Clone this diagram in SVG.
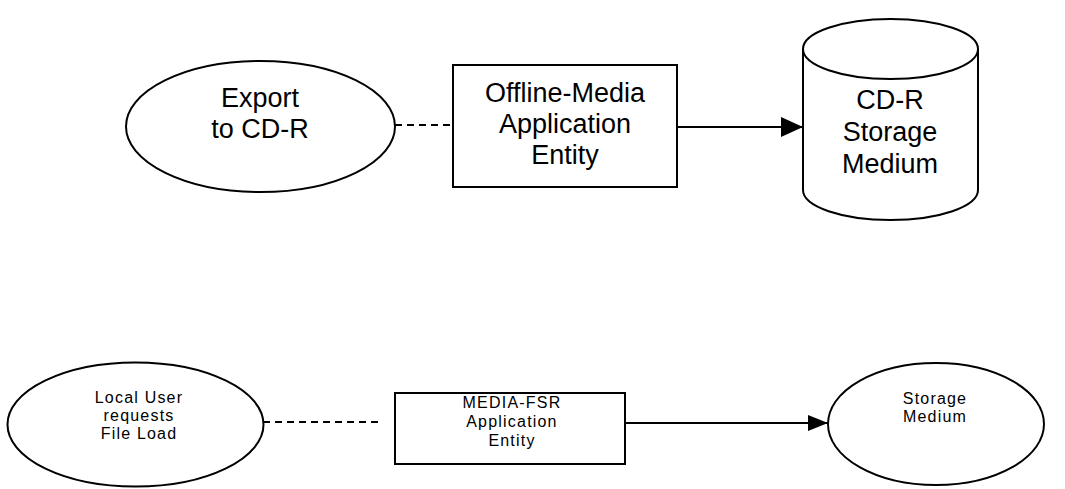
<svg xmlns="http://www.w3.org/2000/svg" width="1065" height="489" viewBox="0 0 1065 489">
  <defs>
    <style>
      .shape { fill: #ffffff; stroke: #000000; stroke-width: 2; }
      .big { font-family: "Liberation Sans", Arial, sans-serif; font-size: 27px; fill: #000; text-anchor: middle; }
      .small { font-family: "Liberation Sans", Arial, sans-serif; font-size: 16px; fill: #000; text-anchor: middle; letter-spacing: 1.2px; }
      .dash { stroke: #000; stroke-width: 2; stroke-dasharray: 7 5; fill: none; }
      .solid { stroke: #000; stroke-width: 2; fill: none; }
    </style>
    <marker id="arrow" markerWidth="22" markerHeight="20" refX="22" refY="10" orient="auto" markerUnits="userSpaceOnUse">
      <path d="M0,0 L22,10 L0,20 Z" fill="#000"/>
    </marker>
    <marker id="arrowSmall" markerWidth="20" markerHeight="16" refX="20" refY="8" orient="auto" markerUnits="userSpaceOnUse">
      <path d="M0,0 L20,8 L0,16 Z" fill="#000"/>
    </marker>
  </defs>

  <g id="connectors">
    <line class="dash" x1="395" y1="125" x2="453" y2="125"/>
    <line class="solid" x1="677" y1="127" x2="803" y2="127" marker-end="url(#arrow)"/>
    <line class="dash" x1="263" y1="422" x2="382" y2="422"/>
    <line class="solid" x1="625" y1="423" x2="828" y2="423" marker-end="url(#arrowSmall)"/>
  </g>

  <g id="export-cdr">
    <ellipse class="shape" cx="260.5" cy="126.5" rx="134.5" ry="65.5"/>
    <text class="big" x="260" y="107">Export</text>
    <text class="big" x="260" y="138">to CD-R</text>
  </g>

  <g id="offline-media-ae">
    <rect class="shape" x="453" y="65" width="224" height="122"/>
    <text class="big" x="565" y="102">Offline-Media</text>
    <text class="big" x="565" y="133">Application</text>
    <text class="big" x="565" y="164">Entity</text>
  </g>

  <g id="cdr-storage">
    <path class="shape" d="M803,49 L803,190 A87.5,30 0 0 0 978,190 L978,49 A87.5,30 0 0 0 803,49 Z"/>
    <path class="solid" d="M803,49 A87.5,30 0 0 0 978,49"/>
    <text class="big" x="890" y="109">CD-R</text>
    <text class="big" x="890" y="141">Storage</text>
    <text class="big" x="890" y="173">Medium</text>
  </g>

  <g id="local-user">
    <ellipse class="shape" cx="135.5" cy="424.5" rx="128" ry="62"/>
    <text class="small" x="139" y="403">Local User</text>
    <text class="small" x="139" y="421">requests</text>
    <text class="small" x="139" y="439">File Load</text>
  </g>

  <g id="media-fsr-ae">
    <rect class="shape" x="395" y="393" width="230" height="71"/>
    <text class="small" x="512" y="408">MEDIA-FSR</text>
    <text class="small" x="512" y="427">Application</text>
    <text class="small" x="512" y="446">Entity</text>
  </g>

  <g id="storage-medium">
    <ellipse class="shape" cx="936" cy="424" rx="108" ry="61"/>
    <text class="small" x="935" y="404">Storage</text>
    <text class="small" x="935" y="422">Medium</text>
  </g>
</svg>
